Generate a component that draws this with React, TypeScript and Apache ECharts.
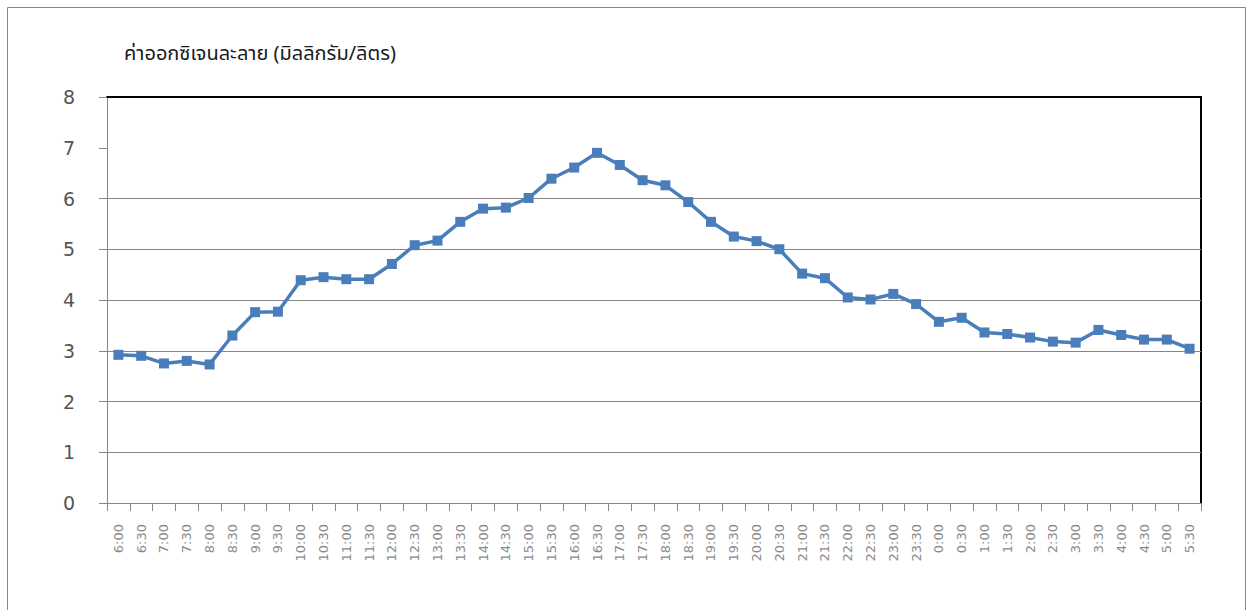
import React, { useEffect, useRef } from "react";
import * as echarts from "echarts";

const titleText = "ค่าออกซิเจนละลาย (มิลลิกรัม/ลิตร)";

const times = [
  "6:00", "6:30", "7:00", "7:30", "8:00", "8:30", "9:00", "9:30",
  "10:00", "10:30", "11:00", "11:30", "12:00", "12:30", "13:00", "13:30",
  "14:00", "14:30", "15:00", "15:30", "16:00", "16:30", "17:00", "17:30",
  "18:00", "18:30", "19:00", "19:30", "20:00", "20:30", "21:00", "21:30",
  "22:00", "22:30", "23:00", "23:30", "0:00", "0:30", "1:00", "1:30",
  "2:00", "2:30", "3:00", "3:30", "4:00", "4:30", "5:00", "5:30",
];

const dissolvedOxygen = [
  2.92, 2.9, 2.75, 2.8, 2.73, 3.3, 3.76, 3.77,
  4.39, 4.45, 4.41, 4.41, 4.71, 5.08, 5.17, 5.54,
  5.8, 5.82, 6.01, 6.39, 6.61, 6.9, 6.66, 6.36,
  6.26, 5.93, 5.54, 5.25, 5.16, 5.0, 4.52, 4.43,
  4.05, 4.01, 4.12, 3.92, 3.57, 3.65, 3.36, 3.33,
  3.26, 3.18, 3.16, 3.41, 3.31, 3.22, 3.22, 3.04,
];

// gridlines visible in the reference (the one at 7 is absent there)
const gridValues = [1, 2, 3, 4, 5, 6];

const yMin = 0;
const yMax = 8;
const yInterval = 1;

export default function App() {
  const ref = useRef<HTMLDivElement>(null);

  useEffect(() => {
    if (!ref.current) return;
    const chart = echarts.init(ref.current, null, { renderer: "svg" });
    chart.setOption({
      animation: false,
      backgroundColor: "#ffffff",
      graphic: [
        {
          type: "rect",
          left: 5,
          top: 5,
          shape: { width: 1238, height: 640 },
          style: { fill: "none", stroke: "#868686", lineWidth: 1 },
          silent: true,
        },
        {
          type: "text",
          left: 124,
          top: 44,
          style: {
            text: titleText,
            fontSize: 20,
            fill: "#1a1a1a",
            fontFamily: "'Noto Sans Thai', 'Noto Sans', 'DejaVu Sans', sans-serif",
          },
        },
      ],
      grid: { left: 107, right: 47, top: 97, bottom: 107, containLabel: false },
      xAxis: [
        {
          type: "category",
          data: times,
          boundaryGap: true,
          axisLine: { show: true, lineStyle: { color: "#868686", width: 1 } },
          axisTick: { show: true, alignWithLabel: false, length: 8, lineStyle: { color: "#868686" } },
          axisLabel: {
            rotate: 90,
            interval: 0,
            margin: 21,
            fontSize: 13,
            color: "#8a8a8a",
            fontFamily: "'DejaVu Sans', sans-serif",
          },
          splitLine: { show: false },
        },
        {
          type: "category",
          data: times,
          position: "top",
          axisLine: { show: true, onZero: false, lineStyle: { color: "#000000", width: 2 } },
          axisTick: { show: false },
          axisLabel: { show: false },
        },
      ],
      yAxis: [
        {
          type: "value",
          min: yMin,
          max: yMax,
          interval: yInterval,
          axisLine: { show: true, lineStyle: { color: "#868686", width: 1 } },
          axisTick: { show: true, length: 8, lineStyle: { color: "#868686" } },
          axisLabel: {
            margin: 32,
            fontSize: 19,
            color: "#555555",
            fontFamily: "'DejaVu Sans', sans-serif",
          },
          splitLine: { show: false },
        },
        {
          type: "value",
          min: yMin,
          max: yMax,
          interval: yInterval,
          position: "right",
          axisLine: { show: true, lineStyle: { color: "#000000", width: 2 } },
          axisTick: { show: false },
          axisLabel: { show: false },
          splitLine: { show: false },
        },
      ],
      series: [
        {
          type: "line",
          data: dissolvedOxygen,
          xAxisIndex: 0,
          yAxisIndex: 0,
          symbol: "rect",
          symbolSize: 10,
          z: 3,
          lineStyle: { color: "#4a7ebb", width: 3.5 },
          itemStyle: { color: "#4a7ebb" },
          markLine: {
            silent: true,
            z: 1,
            symbol: ["none", "none"],
            label: { show: false },
            lineStyle: { color: "#868686", width: 1, type: "solid" },
            emphasis: { disabled: true },
            data: gridValues.map((v) => ({ yAxis: v })),
          },
        },
      ],
    });
    return () => chart.dispose();
  }, []);

  return (
    <div
      ref={ref}
      style={{ position: "fixed", left: 0, top: 0, width: 1248, height: 610 }}
    />
  );
}
